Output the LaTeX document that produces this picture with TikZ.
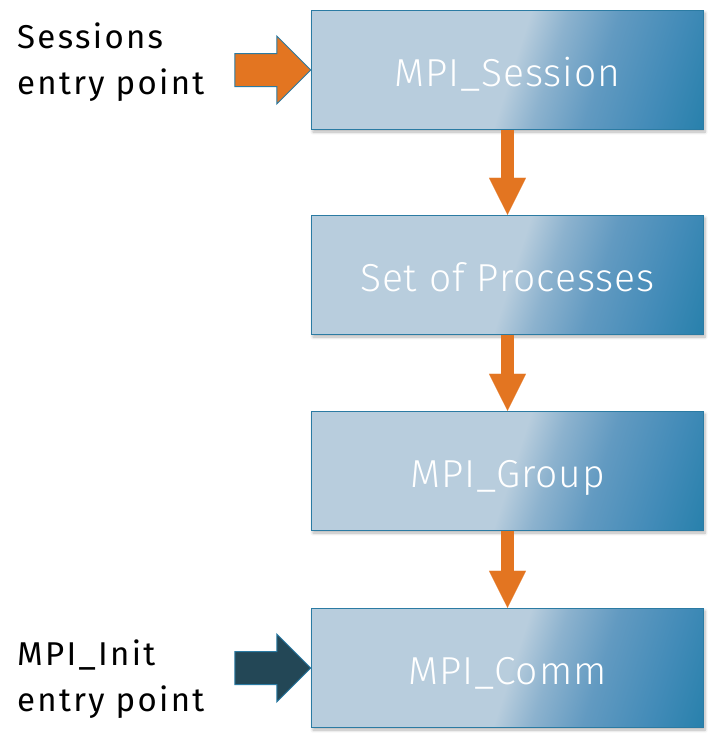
\documentclass[tikz,border=0pt]{standalone}
\usepackage{fontspec}
\setmainfont{Fira Sans}
\newfontfamily\boxfont[LetterSpace=2.5]{Fira Sans Light}
\newfontfamily\labelfont[LetterSpace=7]{Fira Sans}
\usetikzlibrary{arrows.meta,shadows.blur,calc}
\definecolor{lightC}{RGB}{184,205,221}
\definecolor{midA}{RGB}{140,178,206}
\definecolor{midB}{RGB}{98,154,193}
\definecolor{midC}{RGB}{66,139,184}
\definecolor{darkC}{RGB}{36,127,170}
\definecolor{borderC}{RGB}{43,123,163}
\definecolor{orangeC}{RGB}{227,117,33}
\definecolor{navyC}{RGB}{35,71,86}
\pgfdeclarehorizontalshading{boxgrad}{100bp}{color(0bp)=(lightC); color(25bp)=(lightC); color(26bp)=(lightC); color(34.5bp)=(midA); color(46bp)=(midB); color(61bp)=(midC); color(75bp)=(darkC); color(100bp)=(darkC)}
\tikzset{
  box/.style={draw=borderC, line width=1.5pt, fill=lightC,
    minimum width=392pt, minimum height=119pt, inner sep=0pt,
    text height=32pt, text depth=0pt,
    text=white, font=\boxfont\fontsize{39}{44}\selectfont,
    blur shadow={shadow xshift=1.5pt, shadow yshift=-2.5pt, shadow blur steps=6, shadow blur radius=3pt, shadow opacity=30},
    path picture={
      \begin{scope}[transform canvas={rotate around={-18:(path picture bounding box.center)}}]
        \shade[shading=boxgrad] ($(path picture bounding box.center)+(0,-160)$) rectangle ++(212,320);
      \end{scope}}},
  flow/.style={draw=orangeC, line width=13pt, line cap=butt,
    -{Triangle[width=37pt,length=37pt,line width=0.1pt,fill=orangeC]}},
  entrylabel/.style={font=\labelfont\fontsize{33}{46}\selectfont, align=left, inner sep=0pt, text=black},
}
\begin{document}
\begin{tikzpicture}[x=1pt,y=-1pt]
\useasboundingbox (0,0) rectangle (719,747);
\node[box] (s1) at (507.5,70) {MPI\_Session};
\node[box] (s2) at (507.5,275) {Set of Processes};
\node[box] (s3) at (507.5,471) {MPI\_Group};
\node[box] (s4) at (507.5,668) {MPI\_Comm};
\draw[flow] (s1.south) -- (s2.north);
\draw[flow] (s2.south) -- (s3.north);
\draw[flow] (s3.south) -- (s4.north);
\draw[draw=borderC, line width=1pt, fill=orangeC, line join=miter]
  (s1.west) -- ++(-34,-34) -- ++(0,17.5) -- ++(-42,0) -- ++(0,33) -- ++(42,0) -- ++(0,17.5) -- cycle;
\draw[draw=borderC, line width=1pt, fill=navyC, line join=miter]
  (s4.west) -- ++(-34,-34) -- ++(0,17.5) -- ++(-42,0) -- ++(0,33) -- ++(42,0) -- ++(0,17.5) -- cycle;
\node[entrylabel, anchor=base west] (l1) at (17,94) {Sessions\\entry point};
\node[entrylabel, anchor=base west] (l2) at (17,711) {MPI\_Init\\entry point};
\end{tikzpicture}
\end{document}
